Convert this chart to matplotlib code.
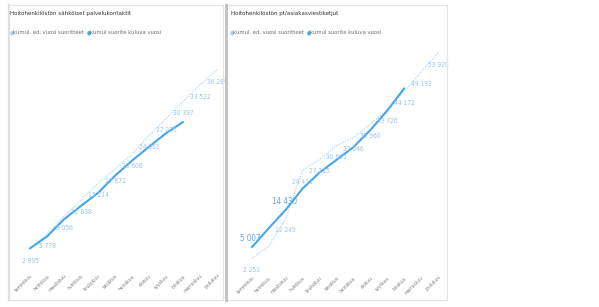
import matplotlib
matplotlib.use("Agg")
import matplotlib.pyplot as plt
from matplotlib.patches import Rectangle
from matplotlib.lines import Line2D

plt.rcParams['font.family'] = ['DejaVu Sans']
plt.rcParams['font.stretch'] = 'condensed'

months = ["tammikuu", "helmikuu", "maaliskuu", "huhtikuu", "toukokuu", "kesäkuu",
          "heinäkuu", "elokuu", "syyskuu", "lokakuu", "marraskuu", "joulukuu"]

title1 = "Hoitohenkilöstön sähköiset palvelukontaktit"
title2 = "Hoitohenkilöstön pt/asiakasviestiketjut"
legend_prev = "kumul. ed. vuosi suoritteet"
legend_curr = "kumul suorite kuluva vuosi"

# chart 1
prev1 = [2995, 5778, 9056, 12038, 15214, 17871, 20608, 24061, 27236, 30397, 33522, 36289]
curr1 = [3100, 5300, 8500, 11000, 13400, 16600, 19400, 22000, 24500, 26600]
prev1_labelled = list(range(12))
curr1_labelled = []

# chart 2
prev2 = [2251, 5200, 12249, 24411, 27115, 30605, 32646, 35960, 39726, 44172, 49192, 53920]
curr2 = [5007, 9800, 14430, 19800, 23800, 27000, 30200, 34500, 39400, 45000]
prev2_labelled = [0, 2, 3, 4, 5, 6, 7, 8, 9, 10, 11]
curr2_labelled = [0, 2]

W, H = 599, 307
fig = plt.figure(figsize=(W / 100, H / 100), dpi=100)
fig.patch.set_facecolor("white")

def fx(px):
    return px / W

def fy(py):
    return 1 - py / H

C_CURR = "#45a6ee"
C_PREV = "#a6d0f5"
C_LAB = "#96c4f0"
C_LAB2 = "#5ea9ea"

def fmt(v):
    return f"{v:,}".replace(",", " ")

# panels
fig.add_artist(Rectangle((fx(8), fy(300)), fx(223) - fx(8), fy(5) - fy(300),
                         transform=fig.transFigure, fill=False, edgecolor="#e3e3e3", lw=0.8))
fig.add_artist(Rectangle((fx(226), fy(300)), fx(447) - fx(226), fy(5) - fy(300),
                         transform=fig.transFigure, fill=False, edgecolor="#e3e3e3", lw=0.8))
fig.add_artist(Line2D([fx(8.5), fx(8.5)], [fy(300), fy(5)], transform=fig.transFigure,
                      color="#e0e0e0", lw=1.6))
fig.add_artist(Line2D([fx(226), fx(226)], [fy(300), fy(5)], transform=fig.transFigure,
                      color="#c4c4c4", lw=2.2))

def panel(left_px, right_px, top_px, bottom_px, ytop, prev, curr, prev_lab, curr_lab,
          title, title_x, leg_x):
    ax = fig.add_axes([fx(left_px), fy(bottom_px), fx(right_px) - fx(left_px),
                       fy(top_px) - fy(bottom_px)])
    ax.set_xlim(-0.5, 11.5)
    ax.set_ylim(0, ytop)
    ax.patch.set_alpha(0)
    for s in ax.spines.values():
        s.set_visible(False)
    ax.set_yticks([])
    ax.plot(range(len(prev)), prev, color=C_PREV, lw=0.8, ls=(0, (1, 1.3)), clip_on=False)
    ax.plot(range(len(curr)), curr, color=C_CURR, lw=1.5, solid_capstyle="round", clip_on=False)
    for i in prev_lab:
        ax.annotate(fmt(prev[i]), (i, prev[i]), xytext=(0, -8.5), textcoords="offset points",
                    ha="center", va="center", fontsize=4.8, color=C_LAB, annotation_clip=False)
    for i in curr_lab:
        ax.annotate(fmt(curr[i]), (i, curr[i]), xytext=(-1, 6), textcoords="offset points",
                    ha="center", va="center", fontsize=5.8, color=C_LAB2, annotation_clip=False)
    ax.set_xticks(range(12))
    ax.set_xticklabels(months, rotation=45, ha="right", rotation_mode="anchor",
                       fontsize=3.6, color="#7f7f7f")
    ax.tick_params(axis="x", length=0, pad=6)
    fig.text(fx(title_x), fy(13), title, fontsize=4.45, color="#333333", ha="left", va="center")
    fig.text(fx(leg_x), fy(33), "●", fontsize=4, color=C_PREV, ha="left", va="center")
    fig.text(fx(leg_x + 3.5), fy(33), legend_prev, fontsize=4.2, color="#6e6e6e", ha="left", va="center")
    fig.text(fx(leg_x + 77.5), fy(33), "●", fontsize=4, color=C_CURR, ha="left", va="center")
    fig.text(fx(leg_x + 81), fy(33), legend_curr, fontsize=4.2, color="#6e6e6e", ha="left", va="center")
    return ax

panel(21.5, 225.5, 60, 265, (265 - 60) / 5.376 * 1000, prev1, curr1, prev1_labelled,
      curr1_labelled, title1, 10, 9.5)
panel(243.5, 446.5, 45, 267, (267 - 45) / 3.97 * 1000, prev2, curr2, prev2_labelled,
      curr2_labelled, title2, 231, 229.5)

fig.savefig("out.png", dpi=100, facecolor="white")
